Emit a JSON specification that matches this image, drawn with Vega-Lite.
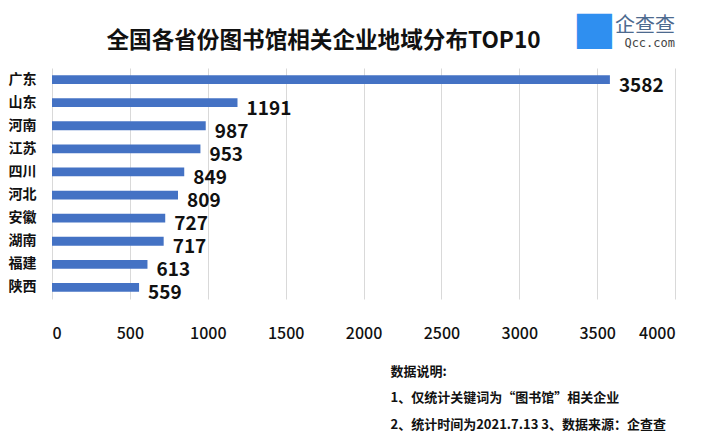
{
  "$schema": "https://vega.github.io/schema/vega-lite/v6.json",
  "width": 623,
  "height": 231,
  "padding": {"left": 8, "top": 5, "right": 5, "bottom": 5},
  "background": "white",
  "config": {"font": "Noto Sans CJK SC", "view": {"stroke": null}},
  "title": {
    "text": "企查查",
    "subtitle": "Qcc.com",
    "anchor": "end",
    "frame": "group",
    "fontSize": 20,
    "fontWeight": "normal",
    "color": "#4d6a8f",
    "subtitleFont": "DejaVu Sans Mono",
    "subtitleFontSize": 12,
    "subtitleColor": "#444444",
    "subtitlePadding": 2,
    "offset": -44
  },
  "data": {
    "values": [
      {"province": "广东", "count": 3582},
      {"province": "山东", "count": 1191},
      {"province": "河南", "count": 987},
      {"province": "江苏", "count": 953},
      {"province": "四川", "count": 849},
      {"province": "河北", "count": 809},
      {"province": "安徽", "count": 727},
      {"province": "湖南", "count": 717},
      {"province": "福建", "count": 613},
      {"province": "陕西", "count": 559}
    ]
  },
  "encoding": {
    "y": {
      "field": "province",
      "type": "nominal",
      "sort": "-x",
      "scale": {"paddingInner": 0.62, "paddingOuter": 0.31},
      "axis": {
        "title": "全国各省份图书馆相关企业地域分布TOP10",
        "titleAngle": 0,
        "titleAlign": "left",
        "titleBaseline": "middle",
        "titleX": 54,
        "titleY": -28,
        "titleFontSize": 22.6,
        "titleFontWeight": "bold",
        "titleColor": "#111111",
        "labelFontSize": 14,
        "labelFontWeight": "bold",
        "labelColor": "#111111",
        "labelPadding": 16,
        "ticks": false,
        "domain": false,
        "grid": false
      }
    }
  },
  "layer": [
    {
      "mark": {"type": "bar", "color": "#4472C4"},
      "encoding": {
        "x": {
          "field": "count",
          "type": "quantitative",
          "scale": {"domain": [0, 4000], "nice": false},
          "axis": {
            "values": [0, 500, 1000, 1500, 2000, 2500, 3000, 3500, 4000],
            "format": "d",
            "grid": true,
            "gridColor": "#d9d9d9",
            "domain": false,
            "ticks": false,
            "labelFontSize": 16,
            "labelFontWeight": 500,
            "labelColor": "#111111",
            "labelPadding": 26,
            "title": ["数据说明:", "1、仅统计关键词为“图书馆”相关企业", "2、统计时间为2021.7.13  3、数据来源：企查查"],
            "titleAlign": "left",
            "titleBaseline": "top",
            "titleX": 338,
            "titleY": 66,
            "titleFontSize": 13,
            "titleFontWeight": "bold",
            "titleColor": "#111111",
            "titleLineHeight": 26.5
          }
        }
      }
    },
    {
      "mark": {"type": "text", "align": "left", "baseline": "middle", "dx": 9, "dy": 6, "fontSize": 19, "fontWeight": "bold", "color": "#111111"},
      "encoding": {
        "x": {
          "field": "count",
          "type": "quantitative",
          "axis": {
            "orient": "top",
            "labels": false,
            "ticks": false,
            "domain": false,
            "grid": false,
            "title": "■",
            "titleFont": "DejaVu Sans",
            "titleFontSize": 46,
            "titleColor": "#2f8ff0",
            "titleAlign": "center",
            "titleBaseline": "middle",
            "titleX": 542,
            "titleY": -40
          }
        },
        "text": {"field": "count", "type": "quantitative"}
      }
    }
  ],
  "resolve": {"axis": {"x": "independent"}}
}
